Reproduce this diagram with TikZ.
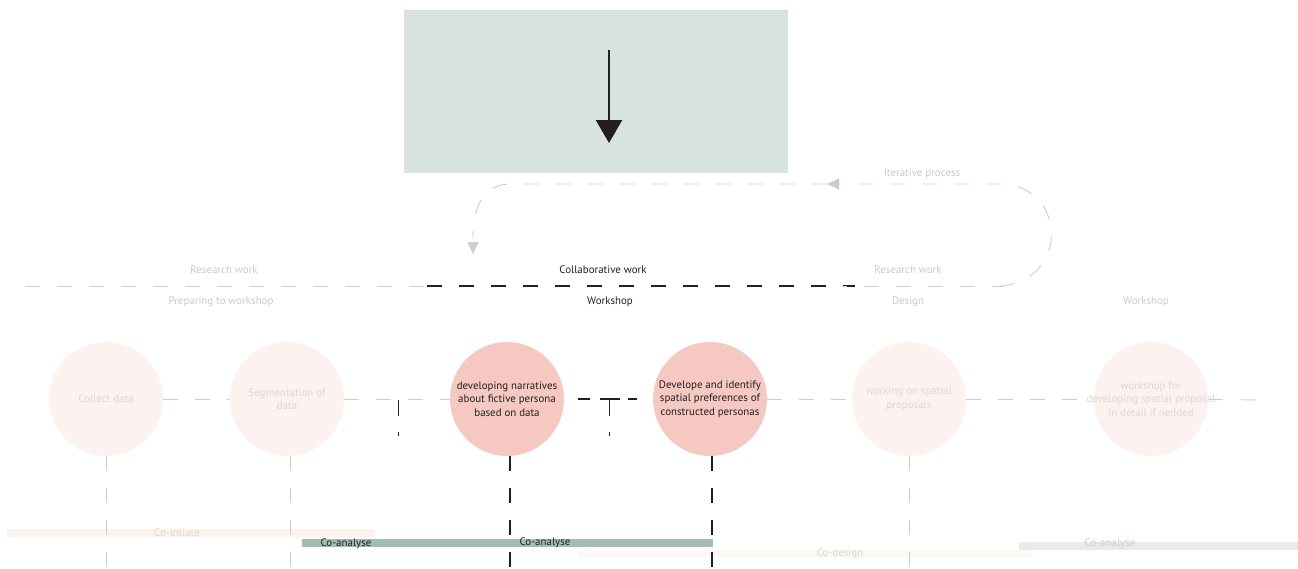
\documentclass[tikz,border=0pt]{standalone}
\usepackage{fontspec}
\setmainfont{PT Sans}
\usetikzlibrary{arrows.meta}

\definecolor{ink}{HTML}{231F20}
\definecolor{boxfill}{HTML}{D8E3DF}
\definecolor{paleline}{HTML}{CDCDCD}
\definecolor{paletext}{HTML}{C9C9C9}
\definecolor{pinkfaint}{HTML}{FCF2F0}
\definecolor{pinktext}{HTML}{E4D4D1}
\definecolor{pinkstrong}{HTML}{F5C8C1}
\definecolor{peachbar}{HTML}{FCF4EC}
\definecolor{peachtext}{HTML}{E3D7CB}
\definecolor{sagebar}{HTML}{A3BDB4}
\definecolor{creambar}{HTML}{FDF8F4}
\definecolor{creamtext}{HTML}{D6D6D6}
\definecolor{mistbar}{HTML}{E7ECEA}
\definecolor{misttext}{HTML}{C6CDCA}

\tikzset{
  txt/.style={font=\fontsize{10.9}{14}\selectfont, inner sep=0pt},
  paletxt/.style={txt, text=paletext},
  inktxt/.style={txt, text=ink},
  phase/.style={circle, minimum size=114pt, inner sep=-40pt, align=center,
    font=\fontsize{10.9}{13.6}\selectfont},
  faintphase/.style={phase, fill=pinkfaint, text=pinktext},
  strongphase/.style={phase, fill=pinkstrong, text=ink},
  dashy/.style={dash pattern=on 15pt off 17pt},
  paledash/.style={dashy, draw=paleline, line width=0.9pt},
  inkdash/.style={dashy, draw=ink, line width=1.2pt},
  barlabel/.style={txt},
}

\begin{document}
\begin{tikzpicture}[x=1pt,y=-1pt]
\useasboundingbox (0,0) rectangle (1298,568);

% header panel with downward arrow
\fill[boxfill] (404,10) rectangle (788,173);
\coordinate (arrtop) at (609,50);
\coordinate (arrtip) at (609,143);
\draw[ink, line width=2.6pt, -{Triangle[length=23pt,width=26pt]}] (arrtop) -- (arrtip);

% iterative loop
\coordinate (loopstart) at (1000,286);
\coordinate (loopright) at (1003,184);
\coordinate (loopmid) at (827,184);
\coordinate (loopleft) at (508,184);
\coordinate (loopend) at (473,254);
\draw[paledash] (loopstart) .. controls (1068,282) and (1068,188) .. (loopright)
  -- (loopmid);
\draw[paleline, line width=0.9pt, -{Triangle[length=12pt,width=11pt]}]
  (loopmid) ++(8,0) -- (loopmid);
\draw[paledash] (loopmid) -- (loopleft)
  .. controls (480,186) and (473,212) .. (473,238);
\draw[paleline, line width=0.9pt, -{Triangle[length=12pt,width=11pt]}]
  (473,242) -- (loopend);
\node[paletxt] (iter) at (922,174) {Iterative process};

% timeline
\coordinate (tlA) at (25,286);
\coordinate (tlB) at (427,286);
\coordinate (tlC) at (855,286);
\coordinate (tlD) at (1003,286);
\draw[paledash] (tlA) -- (tlB);
\draw[inkdash] (tlB) -- (tlC);
\draw[paledash, dash phase=10pt] (842,286) -- (tlD);

\node[paletxt] (rw1) at (224,270) {Research work};
\node[inktxt]  (cw)  at (603,270) {Collaborative work};
\node[paletxt] (rw2) at (908,270) {Research work};
\node[paletxt] (pw)  at (221,302) {Preparing to workshop};
\node[inktxt]  (ws1) at (610,302) {Workshop};
\node[paletxt] (des) at (908,302) {Design};
\node[paletxt] (ws2) at (1146,302) {Workshop};

% phases
\node[faintphase]  (c1) at (106,399) {Collect data};
\node[faintphase]  (c2) at (287,399) {Segmentation of\\data};
\node[strongphase] (c3) at (507,399) {developing narratives\\about fictive persona\\based on data};
\node[strongphase] (c4) at (710,399) {Develope and identify\\spatial preferences of\\constructed personas};
\node[faintphase]  (c5) at (909,399) {working on spatial\\proposals};
\node[faintphase]  (c6) at (1151,399) {workshop for\\developing spatial proposal\\in detail if nedded};

% links between phases
\coordinate (tail) at (1270,400);
\draw[paledash] (c1) -- (c2);
\draw[paledash] (c2) -- (c3);
\draw[inkdash, dash pattern=on 0pt off 14pt on 12pt off 10pt on 20pt off 8pt on 9pt off 30pt] (c3) -- (c4);
\draw[paledash] (c4) -- (c5);
\draw[paledash] (c5) -- (c6);
\draw[paledash] (c6) -- (tail);

% short markers
\coordinate (mA1) at (398,400);
\coordinate (mA2) at (398,436);
\coordinate (mB1) at (609,400);
\coordinate (mB2) at (609,436);
\draw[ink, line width=1pt, dash pattern=on 16pt off 16pt] (mA1) -- (mA2);
\draw[ink, line width=1pt, dash pattern=on 16pt off 16pt] (mB1) -- (mB2);

% bands
\fill[peachbar] (7,529) rectangle (375,537);
\fill[creambar] (578,550) rectangle (1032,558);
\fill[mistbar] (1019,542) rectangle (1298,550);
\fill[sagebar] (302,539) rectangle (713,547);

% drop lines
\coordinate (d1) at (106,568);
\coordinate (d2) at (290,568);
\coordinate (d3) at (510,568);
\coordinate (d4) at (712,568);
\coordinate (d5) at (909,568);
\draw[paledash] (c1.south -| d1) -- (d1);
\draw[paledash] (c2.south -| d2) -- (d2);
\draw[inkdash] (c3.south -| d3) -- (d3);
\draw[inkdash] (c4.south -| d4) -- (d4);
\draw[paledash] (c5.south -| d5) -- (d5);

% band labels
\node[barlabel, text=peachtext] (b1) at (177,533) {Co-intiate};
\node[barlabel, text=ink] (b2) at (346,543.5) {Co-analyse};
\node[barlabel, text=ink] (b3) at (545,542.5) {Co-analyse};
\node[barlabel, text=creamtext] (b4) at (840,554) {Co-design};
\node[barlabel, text=misttext] (b5) at (1110,544) {Co-analyse};
\end{tikzpicture}
\end{document}
